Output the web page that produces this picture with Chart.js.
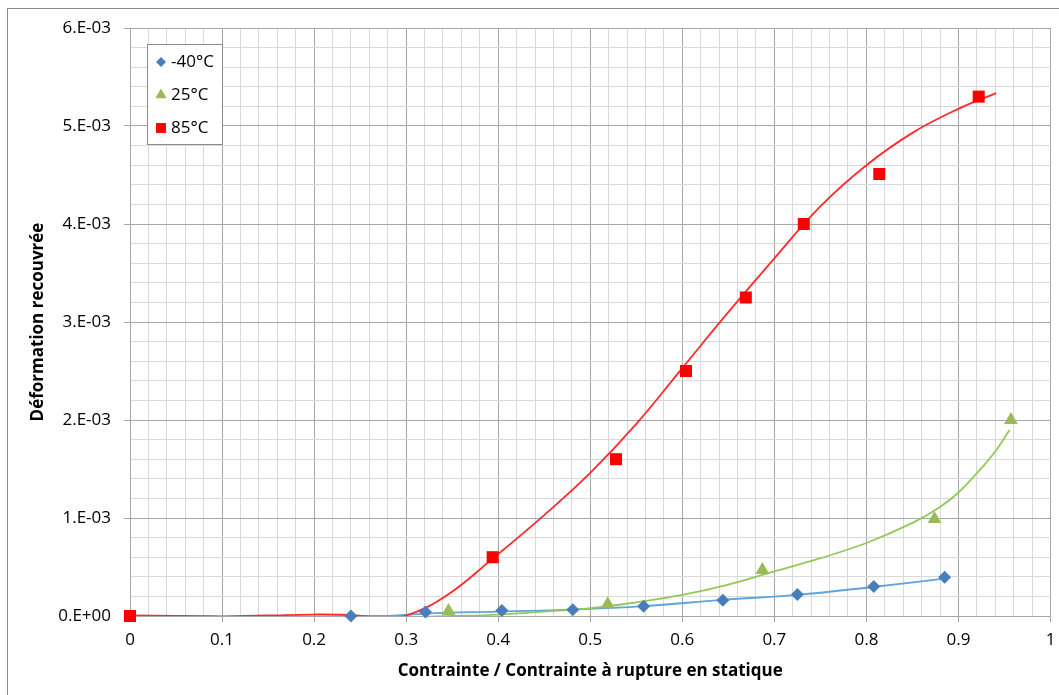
<!DOCTYPE html>
<html><head><meta charset="utf-8">
<script src="https://cdn.jsdelivr.net/npm/chart.js@4.4.1/dist/chart.umd.min.js"></script>
<style>
html,body{margin:0;padding:0;background:#fff;}
#wrap{position:relative;width:1059px;height:695px;overflow:hidden;}
#frame{position:absolute;left:7px;top:8px;right:-2px;bottom:-2px;border-top:1px solid #8c8c8c;border-left:1px solid #8c8c8c;pointer-events:none;}
canvas{display:block}
</style></head><body>
<div id="wrap"><canvas id="c" width="1059" height="695"></canvas><div id="frame"></div></div>
<script>
// ---- data ----
const seriesLabels = ['-40°C', '25°C', '85°C'];

const xMinus40 = [0.240, 0.321, 0.404, 0.481, 0.558, 0.644, 0.725, 0.808, 0.885];
const yMinus40 = [0.0, 0.00004, 0.000055, 0.000065, 0.00010, 0.00016, 0.00022, 0.00030, 0.000395];

const x25 = [0.346, 0.519, 0.687, 0.874, 0.957];
const y25 = [0.00005, 0.00012, 0.00047, 0.00099, 0.0020];

const x85 = [0, 0.394, 0.528, 0.604, 0.669, 0.732, 0.814, 0.922];
const y85 = [0, 0.00060, 0.00160, 0.00250, 0.00325, 0.00400, 0.00451, 0.00530];

// trend curves (as drawn in the picture)
const trendX85 = [0, 0.05, 0.1, 0.15, 0.2, 0.24, 0.27, 0.30, 0.344, 0.394, 0.45, 0.5, 0.55, 0.6, 0.65, 0.7, 0.75, 0.8, 0.85, 0.9, 0.941];
const trendY85 = [0.000005, 0.0, -0.000005, 0.000005, 0.000015, 0.00001, -0.000015, 0.000005, 0.00021, 0.000586, 0.00103, 0.00146, 0.00196, 0.00253, 0.00310, 0.00365, 0.00418, 0.00460, 0.00493, 0.005175, 0.005336];

const trendX25 = [0, 0.1, 0.2, 0.3, 0.35, 0.4, 0.45, 0.5, 0.55, 0.6, 0.65, 0.7, 0.75, 0.8, 0.85, 0.88, 0.9, 0.923, 0.941, 0.9555];
const trendY25 = [0, -0.00001, -0.000015, -0.00001, 0.0, 0.000015, 0.000045, 0.00008, 0.00014, 0.000215, 0.00032, 0.000455, 0.00059, 0.000745, 0.00095, 0.001113, 0.00126, 0.001488, 0.001692, 0.001897];

const trendXMinus40 = [0.24, 0.28, 0.321, 0.40, 0.48, 0.558, 0.644, 0.724, 0.807, 0.885];
const trendYMinus40 = [0.0, 0.0, 0.000025, 0.000045, 0.000065, 0.0001, 0.000165, 0.000215, 0.000296, 0.000382];

const xTickLabels = ['0', '0.1', '0.2', '0.3', '0.4', '0.5', '0.6', '0.7', '0.8', '0.9', '1'];
const yTickLabels = ['0.E+00', '1.E-03', '2.E-03', '3.E-03', '4.E-03', '5.E-03', '6.E-03'];

const xTitle = 'Contrainte / Contrainte à rupture en statique';
const yTitle = 'Déformation recouvrée';

// ---- build ----
const pts = (xs, ys) => xs.map((x, i) => ({x: x, y: ys[i]}));
const FONT = "'Open Sans', 'Noto Sans', sans-serif";
Chart.defaults.font.family = FONT;
Chart.defaults.color = '#000';

const markerColors = ['#4A7EBB', '#9BBB59', '#FF0000'];
const markerStyles = ['rectRot', 'triangle', 'rect'];
const markerRadius = [6.5, 8, 8.5];
const legendRadius = [5, 6.5, 7];

const majorX = v => Math.round(v * 50) % 5 === 0;
const majorY = v => Math.round(v * 5000) % 5 === 0;

const legendPlugin = {
  id: 'boxLegend',
  afterDraw(chart) {
    const ctx = chart.ctx;
    const bx = 147, by = 44, bw = 75, bh = 100;
    ctx.save();
    ctx.fillStyle = '#fff';
    ctx.fillRect(bx, by, bw, bh);
    ctx.strokeStyle = '#8c8c8c';
    ctx.lineWidth = 1;
    ctx.strokeRect(bx + 0.5, by + 0.5, bw, bh);
    seriesLabels.forEach((lab, i) => {
      const cy = by + 18 + i * 33;
      ctx.fillStyle = markerColors[i];
      ctx.strokeStyle = markerColors[i];
      Chart.helpers.drawPoint(ctx, {pointStyle: markerStyles[i], radius: legendRadius[i], borderWidth: 0, rotation: 0}, 161, cy);
      ctx.fillStyle = '#000';
      ctx.font = '17px ' + FONT;
      ctx.textBaseline = 'middle';
      ctx.textAlign = 'left';
      ctx.fillText(lab, 171, cy);
    });
    ctx.restore();
  }
};

const markerSets = [[xMinus40, yMinus40], [x25, y25], [x85, y85]].map((s, i) => ({
  label: seriesLabels[i],
  data: pts(s[0], s[1]),
  showLine: false,
  clip: false,
  pointStyle: markerStyles[i],
  pointRadius: markerRadius[i],
  pointHoverRadius: markerRadius[i],
  pointBackgroundColor: markerColors[i],
  pointBorderColor: markerColors[i],
  pointBorderWidth: 0,
  order: 3 - i
}));

const trendSets = [
  {data: pts(trendX85, trendY85), borderColor: '#FF2A2A'},
  {data: pts(trendX25, trendY25), borderColor: '#92C95A'},
  {data: pts(trendXMinus40, trendYMinus40), borderColor: '#5FA4DE'}
].map(d => Object.assign(d, {
  label: '', showLine: true, pointRadius: 0, pointHoverRadius: 0, borderWidth: 1.8,
  tension: 0.4, fill: false, order: 10
}));

new Chart(document.getElementById('c'), {
  type: 'line',
  data: {datasets: trendSets.concat(markerSets)},
  options: {
    responsive: false,
    animation: false,
    events: [],
    layout: {padding: {left: 0, right: 8, top: 28, bottom: 0}},
    plugins: {legend: {display: false}, tooltip: {enabled: false}},
    scales: {
      x: {
        type: 'linear', min: 0, max: 1,
        afterFit: s => { s.height = 79; s.paddingRight = 0; s.paddingLeft = 0; },
        ticks: {
          stepSize: 0.02, autoSkip: false, maxRotation: 0, padding: 8,
          font: {size: 17},
          callback: v => majorX(v) ? xTickLabels[Math.round(v * 10)] : ''
        },
        grid: {
          color: c => (c.tick && majorX(c.tick.value)) ? '#a6a6a6' : '#d9d9d9',
          tickColor: c => (c.tick && majorX(c.tick.value)) ? '#a6a6a6' : 'rgba(0,0,0,0)',
          tickLength: 6, lineWidth: 1
        },
        border: {color: '#a6a6a6'},
        title: {display: true, text: xTitle, font: {size: 17, weight: 'bold'}, padding: {top: 0, bottom: 14}}
      },
      y: {
        type: 'linear', min: 0, max: 0.006,
        afterFit: s => { s.width = 130; s.paddingTop = 0; s.paddingBottom = 0; },
        ticks: {
          stepSize: 0.0002, autoSkip: false, padding: 13,
          font: {size: 17},
          callback: v => majorY(v) ? yTickLabels[Math.round(v * 1000)] : ''
        },
        grid: {
          color: c => (c.tick && majorY(c.tick.value)) ? '#a6a6a6' : '#d9d9d9',
          tickColor: c => (c.tick && majorY(c.tick.value)) ? '#a6a6a6' : 'rgba(0,0,0,0)',
          tickLength: 6, lineWidth: 1
        },
        border: {color: '#a6a6a6'},
        title: {display: true, text: yTitle, font: {size: 17, weight: 'bold'}, padding: {top: 28, bottom: 0}}
      }
    }
  },
  plugins: [legendPlugin]
});
</script>
</body></html>
